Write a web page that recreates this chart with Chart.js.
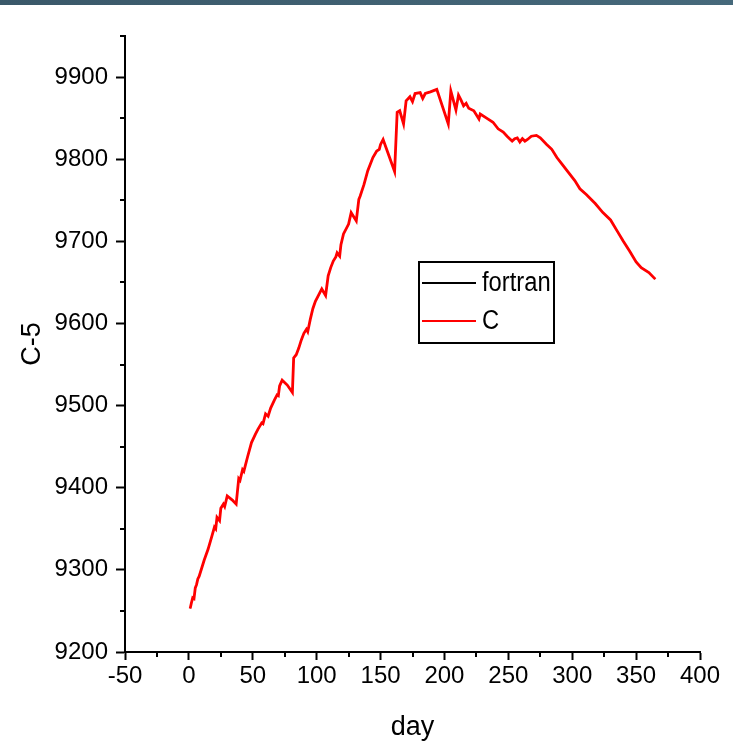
<!DOCTYPE html>
<html>
<head>
<meta charset="utf-8">
<script src="https://cdn.jsdelivr.net/npm/chart.js@4.4.0/dist/chart.umd.min.js"></script>
<style>
html, body { margin: 0; padding: 0; background: #fff; }
#bar { position: absolute; left: 0; top: 0; width: 733px; height: 5px; background: linear-gradient(90deg, #3a5869, #46697b); }
canvas { display: block; }
</style>
</head>
<body>
<div id="bar"></div>
<canvas id="chart" width="733" height="746"></canvas>
<script>
// day of year where the curve was read
var days = [1, 2, 3, 4, 5, 6, 7, 8, 10, 12, 15, 18, 20, 21, 22, 24, 25, 27, 28, 30,
    34, 37, 39, 40, 42, 43, 44, 46, 49, 52, 54, 57, 58, 60, 62, 64, 67, 69, 70, 71,
    73, 77, 81, 82, 84, 86, 88, 90, 92, 93, 95, 97, 99, 101, 104, 107, 109, 111, 113, 115,
    116, 118, 119, 121, 125, 127, 129, 131, 133, 134, 137, 140, 144, 147, 149, 150, 152, 161, 163, 165,
    168, 170, 173, 175, 177, 181, 183, 185, 189, 194, 203, 205, 209, 211, 213, 215, 217, 219, 223, 227,
    228, 233, 238, 242, 246, 249, 251, 253, 255, 257, 259, 261, 263, 265, 268, 272, 275, 280, 284, 288,
    292, 297, 302, 306, 311, 318, 324, 330, 335, 340, 345, 350, 354, 360, 365];

// C-5 values of the C run
var cValues = [9253, 9260, 9266, 9265, 9278, 9282, 9289, 9292, 9302, 9312, 9325, 9341, 9352, 9350, 9364, 9360, 9375, 9380, 9377, 9390,
    9385, 9380, 9411, 9409, 9422, 9420, 9426, 9438, 9455, 9465, 9471, 9479, 9478, 9490, 9487, 9497, 9507, 9513, 9512, 9524,
    9531, 9525, 9516, 9558, 9562, 9570, 9580, 9588, 9593, 9590, 9605, 9618, 9627, 9633, 9642, 9634, 9658, 9668, 9676, 9681,
    9686, 9682, 9696, 9709, 9721, 9735, 9730, 9725, 9751, 9755, 9769, 9786, 9802, 9810, 9812, 9818, 9824, 9785, 9857, 9859,
    9843, 9871, 9876, 9870, 9880, 9881, 9874, 9880, 9882, 9885, 9843, 9883, 9860, 9878, 9872, 9865, 9868, 9862, 9859, 9849,
    9855, 9850, 9845, 9837, 9833, 9828, 9825, 9822, 9825, 9826, 9821, 9825, 9822, 9824, 9828, 9829, 9826, 9818, 9812, 9802,
    9794, 9784, 9774, 9764, 9757, 9746, 9735, 9726, 9713, 9700, 9688, 9675, 9668, 9662, 9654];

// the fortran run sits exactly under the C run
var fortranValues = cValues.slice();

var seriesLabels = ["fortran", "C"];
var seriesColors = ["#000000", "#ff0000"];

var xMin = -50, xMax = 400, xMajor = 50, xMinor = 25;
var yMin = 9200, yMax = 9950, yMajor = 100, yMinor = 50;

var FONT = "'Liberation Sans', Arial, sans-serif";

function toPoints(vals) {
    var pts = [];
    for (var i = 0; i < days.length; i++) pts.push({x: days[i], y: vals[i]});
    return pts;
}

function majorTickColor(step) {
    return function(c) {
        if (c.tick && Math.abs(c.tick.value % step) < 1e-6) return "#000";
        return "rgba(0,0,0,0)";
    };
}

// short ticks between the labelled ones
var minorTicks = {
    id: "minorTicks",
    afterDraw: function(chart) {
        var ctx = chart.ctx;
        var xs = chart.scales.x, ys = chart.scales.y;
        ctx.save();
        ctx.strokeStyle = "#000";
        ctx.lineWidth = 2;
        ctx.beginPath();
        for (var v = xMin + xMinor; v < xMax; v += xMajor) {
            var px = Math.round(xs.getPixelForValue(v));
            ctx.moveTo(px, xs.top);
            ctx.lineTo(px, xs.top + 5);
        }
        for (var w = yMin + yMinor; w <= yMax; w += yMajor) {
            var py = Math.round(ys.getPixelForValue(w));
            ctx.moveTo(ys.right - 5, py);
            ctx.lineTo(ys.right, py);
        }
        ctx.stroke();
        ctx.restore();
    }
};

// framed legend inside the plot
var boxLegend = {
    id: "boxLegend",
    afterDraw: function(chart, args, opts) {
        var ctx = chart.ctx;
        ctx.save();
        ctx.lineWidth = 2;
        ctx.strokeStyle = "#000";
        ctx.strokeRect(opts.x, opts.y, opts.w, opts.h);
        ctx.font = opts.fontSize + "px " + FONT;
        ctx.textBaseline = "middle";
        ctx.fillStyle = "#000";
        for (var i = 0; i < seriesLabels.length; i++) {
            var ly = opts.y + opts.firstRow + i * opts.rowGap;
            ctx.strokeStyle = seriesColors[i];
            ctx.beginPath();
            ctx.moveTo(opts.x + 3, ly);
            ctx.lineTo(opts.x + 57, ly);
            ctx.stroke();
            // slightly condensed, like the original lettering
            ctx.save();
            ctx.translate(opts.x + 63, ly + 1);
            ctx.scale(0.88, 1);
            ctx.fillText(seriesLabels[i], 0, 0);
            ctx.restore();
        }
        ctx.restore();
    }
};

var ctx = document.getElementById("chart").getContext("2d");
var myChart = new Chart(ctx, {
    type: "line",
    data: {
        datasets: [{
            label: seriesLabels[0],
            data: toPoints(fortranValues),
            borderColor: seriesColors[0],
            borderWidth: 1.2,
            pointRadius: 0,
            tension: 0,
            order: 1
        }, {
            label: seriesLabels[1],
            data: toPoints(cValues),
            borderColor: seriesColors[1],
            borderWidth: 2.8,
            pointRadius: 0,
            tension: 0,
            order: 0
        }]
    },
    options: {
        responsive: false,
        animation: false,
        devicePixelRatio: 1,
        layout: { padding: { top: 36, right: 33, left: 0, bottom: 0 } },
        plugins: {
            legend: { display: false },
            tooltip: { enabled: false },
            boxLegend: { x: 419, y: 262, w: 135, h: 81, firstRow: 21, rowGap: 38, fontSize: 27 }
        },
        scales: {
            x: {
                type: "linear",
                min: xMin,
                max: xMax,
                afterFit: function(s) { s.height = 94; },
                border: { display: true, color: "#000", width: 2 },
                grid: { drawOnChartArea: false, drawTicks: true, tickLength: 8, tickWidth: 2, tickColor: majorTickColor(xMajor) },
                ticks: {
                    stepSize: xMinor,
                    autoSkip: false,
                    maxRotation: 0,
                    padding: 2,
                    color: "#000",
                    font: { family: FONT, size: 24 },
                    callback: function(v) { return v % xMajor === 0 ? v : ""; }
                },
                title: { display: true, text: "day", color: "#000", font: { family: FONT, size: 27 }, padding: { top: 0, bottom: 2 } }
            },
            y: {
                type: "linear",
                min: yMin,
                max: yMax,
                afterFit: function(s) { s.width = 125; },
                border: { display: true, color: "#000", width: 2 },
                grid: { drawOnChartArea: false, drawTicks: true, tickLength: 9, tickWidth: 2, tickColor: majorTickColor(yMajor) },
                ticks: {
                    stepSize: yMinor,
                    autoSkip: false,
                    padding: 8,
                    color: "#000",
                    font: { family: FONT, size: 24 },
                    callback: function(v) { return v % yMajor === 0 ? v : ""; }
                },
                title: { display: true, text: "C-5", color: "#000", font: { family: FONT, size: 27 }, padding: { top: 16, bottom: 0 } }
            }
        }
    },
    plugins: [minorTicks, boxLegend]
});
</script>
</body>
</html>
